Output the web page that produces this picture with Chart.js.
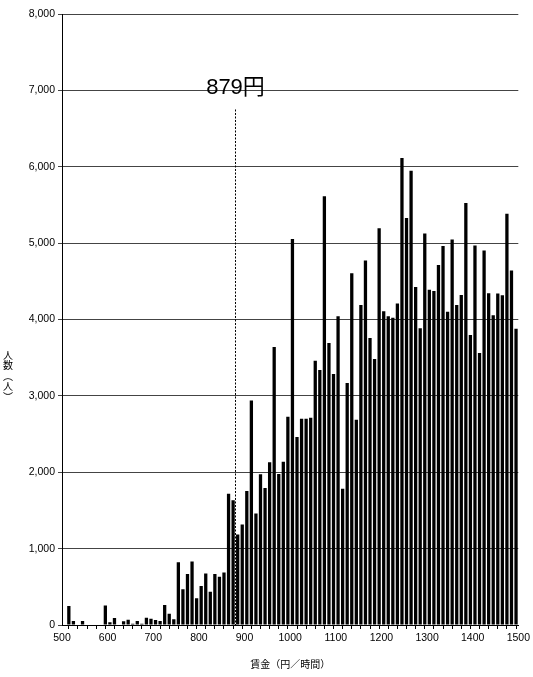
<!DOCTYPE html>
<html lang="ja">
<head>
<meta charset="utf-8">
<title>賃金分布</title>
<script src="https://cdn.jsdelivr.net/npm/chart.js@4.4.1/dist/chart.umd.min.js"></script>
<style>
  html, body { margin: 0; padding: 0; background: #fff; }
  #wrap { width: 533px; height: 677px; }
</style>
</head>
<body>
<div id="wrap"><canvas id="wageChart" width="533" height="677"></canvas></div>
<script>
// 賃金階級（10円刻み、階級の下限）
const wageBins = [
  500, 510, 520, 530, 540, 550, 560, 570, 580, 590,
  600, 610, 620, 630, 640, 650, 660, 670, 680, 690,
  700, 710, 720, 730, 740, 750, 760, 770, 780, 790,
  800, 810, 820, 830, 840, 850, 860, 870, 880, 890,
  900, 910, 920, 930, 940, 950, 960, 970, 980, 990,
  1000, 1010, 1020, 1030, 1040, 1050, 1060, 1070, 1080, 1090,
  1100, 1110, 1120, 1130, 1140, 1150, 1160, 1170, 1180, 1190,
  1200, 1210, 1220, 1230, 1240, 1250, 1260, 1270, 1280, 1290,
  1300, 1310, 1320, 1330, 1340, 1350, 1360, 1370, 1380, 1390,
  1400, 1410, 1420, 1430, 1440, 1450, 1460, 1470, 1480, 1490
];

// 人数（人）
const workerCounts = [
  0, 249, 52, 0, 52, 0, 0, 0, 0, 255,
  35, 92, 0, 48, 70, 17, 52, 17, 96, 83,
  66, 52, 262, 148, 74, 822, 468, 668, 832, 349,
  510, 675, 436, 667, 632, 688, 1717, 1634, 1185, 1316,
  1756, 2941, 1460, 1974, 1795, 2131, 3640, 1978, 2139, 2728,
  5055, 2461, 2700, 2700, 2713, 3461, 3339, 5613, 3691, 3287,
  4043, 1783, 3170, 4604, 2687, 4191, 4774, 3757, 3483, 5196,
  4109, 4043, 4022, 4209, 6113, 5330, 5948, 4426, 3887, 5126,
  4391, 4374, 4713, 4961, 4100, 5048, 4191, 4322, 5526, 3796,
  4970, 3561, 4904, 4343, 4057, 4339, 4317, 5383, 4643, 3878
];

const minWage = 879;
const minWageLabel = '879円';
const yTitleChars = ['人', '数', '︵', '人', '︶'];
const xTitle = '賃金（円／時間）';

const tickFont = { family: '"Liberation Sans", Arial, sans-serif', size: 10.5 };

document.addEventListener('DOMContentLoaded', () => {
  /**
   * 最低賃金の点線とラベル、縦書きの軸タイトル
   */
  const minWagePlugin = {
    id: 'minWagePlugin',
    afterDatasetsDraw(chart) {
      const { ctx, scales: { x, y } } = chart;
      const px = Math.round(x.getPixelForValue(minWage)) + 0.5;
      ctx.save();
      ctx.strokeStyle = '#000';
      ctx.lineWidth = 1;
      ctx.setLineDash([2, 1.5]);
      ctx.beginPath();
      ctx.moveTo(px, y.getPixelForValue(6750));
      ctx.lineTo(px, y.getPixelForValue(0));
      ctx.stroke();
      ctx.setLineDash([]);

      ctx.font = '22px "Liberation Sans", "Noto Sans CJK JP", sans-serif';
      ctx.textAlign = 'center';
      ctx.textBaseline = 'alphabetic';
      ctx.fillStyle = '#000';
      ctx.fillText(minWageLabel, px, y.getPixelForValue(7000) + 4);
      ctx.restore();
    },
    afterDraw(chart) {
      const { ctx } = chart;
      ctx.save();
      ctx.font = '10px "Noto Sans CJK JP", sans-serif';
      ctx.textAlign = 'center';
      ctx.textBaseline = 'middle';
      ctx.fillStyle = '#000';
      yTitleChars.forEach((ch, i) => {
        ctx.fillText(ch, 8, 355 + i * 10.5);
      });
      ctx.restore();
    }
  };

  const ctx = document.getElementById('wageChart').getContext('2d');

  new Chart(ctx, {
    type: 'bar',
    data: {
      datasets: [{
        label: '人数',
        data: wageBins.map((b, i) => ({ x: b + 5, y: workerCounts[i] })),
        backgroundColor: '#000',
        borderWidth: 0,
        barPercentage: 0.72,
        categoryPercentage: 1
      }]
    },
    options: {
      responsive: false,
      animation: false,
      layout: { padding: { top: 14, right: 12, left: 0, bottom: 0 } },
      plugins: {
        legend: { display: false },
        tooltip: { enabled: false }
      },
      scales: {
        x: {
          type: 'linear',
          min: 500,
          max: 1500,
          offset: false,
          afterFit: (scale) => { scale.height = 52; },
          border: { color: '#000', width: 1 },
          grid: { drawOnChartArea: false, drawTicks: true, tickLength: 4, color: '#000' },
          ticks: {
            stepSize: 10,
            maxTicksLimit: 101,
            autoSkip: false,
            maxRotation: 0,
            padding: 3,
            color: '#000',
            font: tickFont,
            callback: (v) => (v % 100 === 0 ? String(v) : '')
          },
          title: {
            display: true,
            text: xTitle,
            color: '#000',
            font: { family: '"Noto Sans CJK JP", sans-serif', size: 10 },
            padding: { top: 0, bottom: 7 }
          }
        },
        y: {
          min: 0,
          max: 8000,
          afterFit: (scale) => { scale.width = 62; },
          border: { color: '#000', width: 1 },
          grid: { color: '#444', lineWidth: 1, tickLength: 4 },
          ticks: {
            stepSize: 1000,
            padding: 3,
            color: '#000',
            font: tickFont,
            callback: (v) => v.toLocaleString('en-US')
          }
        }
      }
    },
    plugins: [minWagePlugin]
  });
});
</script>
</body>
</html>
